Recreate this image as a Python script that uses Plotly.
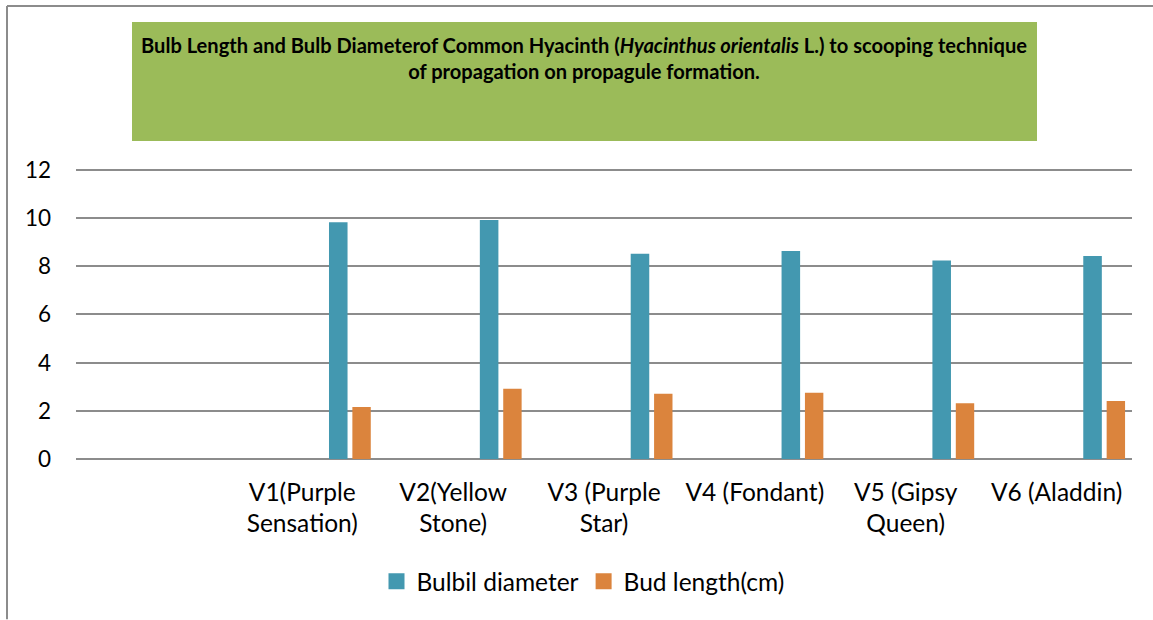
import plotly.graph_objects as go

# ---- data ----
categories = [" ", "V1(Purple<br>Sensation)", "V2(Yellow<br>Stone)", "V3 (Purple<br>Star)",
              "V4 (Fondant)", "V5 (Gipsy<br>Queen)", "V6 (Aladdin)"]
series_names = ["Bulbil diameter", "Bud length(cm)"]
bulbil_diameter = [None, 9.83, 9.92, 8.52, 8.63, 8.24, 8.43]
bud_length = [None, 2.16, 2.92, 2.71, 2.75, 2.31, 2.41]
y_ticks = [0, 2, 4, 6, 8, 10, 12]

title_html = ("<b>Bulb Length and Bulb Diameterof Common Hyacinth (<i>Hyacinthus orientalis</i> L.) "
              "to scooping technique<br>of propagation on propagule formation.</b>")

BLUE, ORANGE = "#4398B0", "#DB843D"
W, H = 1153, 620
PX_PER_UNIT = (459.5 - 170) / 12
Y_MAX = 12.12
L, R, B = 76, 1132, 459.5
T = B - Y_MAX * PX_PER_UNIT
FONT = "Lato"

def px2paper(px, py):
    return (px - L) / (R - L), (B - py) / (B - T)

fig = go.Figure()
fig.add_trace(go.Bar(x=categories, y=bulbil_diameter, name=series_names[0],
                     marker=dict(color=BLUE, line=dict(width=0)),
                     offset=0.177, width=0.123, showlegend=False))
fig.add_trace(go.Bar(x=categories, y=bud_length, name=series_names[1],
                     marker=dict(color=ORANGE, line=dict(width=0)),
                     offset=0.332, width=0.122, showlegend=False))
# legend entries with larger square swatches
for nm, col in zip(series_names, [BLUE, ORANGE]):
    fig.add_trace(go.Scatter(x=[None], y=[None], mode="markers", name=nm,
                             marker=dict(symbol="square", size=16, color=col),
                             showlegend=True, hoverinfo="skip"))

shapes = []
# outer frame (left and top)
x0, y0 = px2paper(7, 6)
x1, y1 = px2paper(1153, 620)
shapes.append(dict(type="line", xref="paper", yref="paper", x0=x0, y0=y0, x1=x0, y1=y1,
                   line=dict(color="#8C8C8C", width=2)))
shapes.append(dict(type="line", xref="paper", yref="paper", x0=x0, y0=y0, x1=x1, y1=y0,
                   line=dict(color="#8C8C8C", width=2)))
# green title box
bx0, by0 = px2paper(132, 22)
bx1, by1 = px2paper(1037, 141)
shapes.append(dict(type="rect", xref="paper", yref="paper", x0=bx0, y0=by1, x1=bx1, y1=by0,
                   fillcolor="#9BBB59", line=dict(width=0), layer="below"))

tx, ty = px2paper(584, 31)
fig.add_annotation(text=title_html, xref="paper", yref="paper", x=tx, y=ty,
                   xanchor="center", yanchor="top", showarrow=False, align="center",
                   font=dict(family=FONT, size=20.1, color="#000000"))

lx, ly = px2paper(583, 582)
fig.update_layout(
    width=W, height=H,
    margin=dict(l=L, r=W - R, t=T, b=H - B, pad=0),
    paper_bgcolor="white", plot_bgcolor="white",
    shapes=shapes,
    barmode="group",
    showlegend=True,
    legend=dict(orientation="h", x=lx, y=ly, xanchor="center", yanchor="middle",
                font=dict(family=FONT, size=24.5, color="#000000"),
                traceorder="normal", itemwidth=30),
    xaxis=dict(type="category", categoryorder="array", categoryarray=categories,
               range=[-0.5, 6.5], showgrid=False, zeroline=False, showline=False,
               ticks="", tickfont=dict(family=FONT, size=24.5, color="#000000"),
               ticklabelstandoff=16, tickangle=0),
    yaxis=dict(range=[0, Y_MAX], tickvals=y_ticks, showgrid=True, gridcolor="#8C8C8C",
               gridwidth=1.75, zeroline=True, zerolinecolor="#8C8C8C", zerolinewidth=1.75,
               showline=False, ticks="", tickfont=dict(family=FONT, size=22.5, color="#000000"),
               ticklabelstandoff=24),
)

fig.write_html("out.html", config={"displayModeBar": False},
               post_script="document.body.style.margin='0px';document.body.style.padding='0px';")
